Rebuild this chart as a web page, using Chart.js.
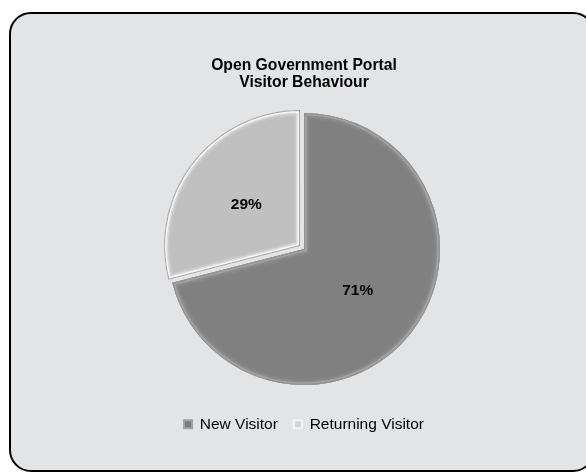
<!DOCTYPE html>
<html>
<head>
<meta charset="utf-8">
<script src="https://cdn.jsdelivr.net/npm/chart.js@4.4.1/dist/chart.umd.min.js"></script>
<style>
  html, body { margin: 0; padding: 0; background: #ffffff; width: 586px; height: 474px; overflow: hidden; }
  #frame { position: absolute; left: 9px; top: 12px; width: 582px; height: 456px;
           border: 2.5px solid #000; border-radius: 22px; background: #e3e4e6; }
  #wrap { position: absolute; left: 0; top: 0; width: 586px; height: 474px; }
</style>
</head>
<body>
<div id="frame"></div>
<div id="wrap"><canvas id="chart" width="586" height="474"></canvas></div>
<script>
// Visitor split, in percent
const categories = ['New Visitor', 'Returning Visitor'];
const shares = [71, 29];
const titleLines = ['Open Government Portal', 'Visitor Behaviour'];

const FONT = '"Liberation Sans", Arial, Helvetica, sans-serif';
Chart.defaults.font.family = FONT;

// Bevel bands per slice: [inset width in px, colour], widest first
const bevels = [
  [[6, 'rgba(255,255,255,0.04)'], [4, 'rgba(255,255,255,0.08)'], [2.6, '#a3a3a3'], [1.2, '#939393']],
  [[6, 'rgba(255,255,255,0.12)'], [4, 'rgba(255,255,255,0.35)'], [2.6, '#f8f8f8'], [1.1, '#a8a8a8']]
];

function slicePath(ctx, el) {
  const shift = (el.options.offset || 0) / 4;
  const mid = (el.startAngle + el.endAngle) / 2;
  const cx = el.x + Math.cos(mid) * shift;
  const cy = el.y + Math.sin(mid) * shift;
  ctx.beginPath();
  ctx.moveTo(cx, cy);
  ctx.arc(cx, cy, el.outerRadius, el.startAngle, el.endAngle);
  ctx.closePath();
  return { cx, cy, mid };
}

const sliceDecor = {
  id: 'sliceDecor',
  afterDatasetsDraw(chart) {
    const ctx = chart.ctx;
    const meta = chart.getDatasetMeta(0);
    meta.data.forEach((el, i) => {
      // inner bevel, clipped to the slice
      ctx.save();
      slicePath(ctx, el);
      ctx.clip();
      ctx.lineJoin = 'miter';
      bevels[i].forEach(([w, c]) => {
        slicePath(ctx, el);
        ctx.lineWidth = w * 2;
        ctx.strokeStyle = c;
        ctx.stroke();
      });
      ctx.restore();
    });
    // value labels at half radius along each slice bisector
    meta.data.forEach((el, i) => {
      ctx.save();
      const p = slicePath(ctx, el);
      const r = el.outerRadius * 0.5;
      ctx.fillStyle = '#000';
      ctx.font = 'bold 15.5px ' + FONT;
      ctx.textAlign = 'center';
      ctx.textBaseline = 'middle';
      ctx.fillText(shares[i] + '%', p.cx + Math.cos(p.mid) * r, p.cy + Math.sin(p.mid) * r);
      ctx.restore();
    });
  }
};

const legendMarks = [
  { fill: '#7c7c7c', stroke: '#a2a2a2' },
  { fill: '#d6d6d6', stroke: '#f4f4f4' }
];

new Chart(document.getElementById('chart'), {
  type: 'pie',
  data: {
    labels: categories,
    datasets: [{
      data: shares,
      backgroundColor: ['#808080', '#c0c0c0'],
      borderWidth: 0,
      offset: [0, 20],
      radius: 136
    }]
  },
  options: {
    responsive: false,
    animation: false,
    layout: { padding: { left: 22, right: 0, top: 0, bottom: 32 } },
    plugins: {
      title: {
        display: true,
        text: titleLines,
        color: '#000',
        font: { size: 15.7, weight: 'bold', lineHeight: 1.1 },
        padding: { top: 57, bottom: 6 }
      },
      legend: {
        position: 'bottom',
        labels: {
          boxWidth: 8,
          boxHeight: 8,
          padding: 16,
          color: '#000',
          font: { size: 15.5 },
          generateLabels(chart) {
            const items = Chart.overrides.pie.plugins.legend.labels.generateLabels(chart);
            items.forEach((it, i) => {
              it.fillStyle = legendMarks[i].fill;
              it.strokeStyle = legendMarks[i].stroke;
              it.lineWidth = 2;
            });
            return items;
          }
        }
      },
      tooltip: { enabled: false }
    }
  },
  plugins: [sliceDecor]
});
</script>
</body>
</html>
